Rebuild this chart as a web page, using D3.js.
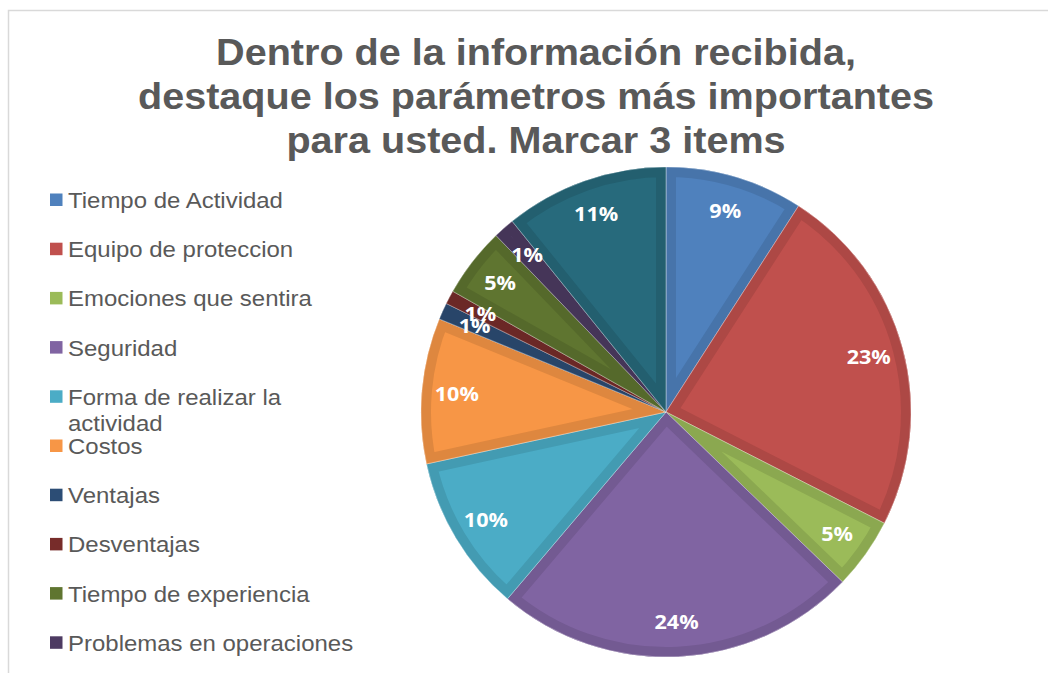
<!DOCTYPE html>
<html>
<head>
<meta charset="utf-8">
<script src="https://cdn.jsdelivr.net/npm/d3@7"></script>
<style>
  body { margin: 0; background: #fff; }
  svg { display: block; }
</style>
</head>
<body>
<svg id="grafico"></svg>
<script>
// datos (porcentaje de menciones)
const categorias = [
  "Tiempo de Actividad", "Equipo de proteccion", "Emociones que sentira",
  "Seguridad", "Forma de realizar la actividad", "Costos", "Ventajas",
  "Desventajas", "Tiempo de experiencia", "Problemas en operaciones", "Otros"
];
const valores = [9.1, 23.4, 4.7, 24.0, 10.4, 9.6, 1.1, 0.9, 4.6, 1.4, 10.8];
const colores = [
  "#4F81BD", "#C0504D", "#9BBB59", "#8064A2", "#4BACC6", "#F79646",
  "#2C4D75", "#772C2A", "#5F7530", "#4D3B62", "#276A7C"
];
const tituloLineas = [
  "Dentro de la información recibida,",
  "destaque los parámetros más importantes",
  "para usted. Marcar 3 items"
];

const width = 1048, height = 673;
const svg = d3.select("#grafico")
  .attr("width", width)
  .attr("height", height);

// marco gris del área del gráfico
svg.append("path")
  .attr("d", "M8.5," + height + " V10.5 H" + width)
  .attr("fill", "none")
  .attr("stroke", "#D9D9D9")
  .attr("stroke-width", 1.5);

// título (el original está un poco estirado a lo ancho)
svg.append("g").selectAll("text")
  .data(tituloLineas)
  .enter().append("text")
  .attr("transform", (d, i) => "translate(536," + (65 + i * 44) + ") scale(1.07,1)")
  .attr("text-anchor", "middle")
  .attr("font-family", "Liberation Sans, Arial, sans-serif")
  .attr("font-weight", "bold")
  .attr("font-size", 37)
  .attr("fill", "#595959")
  .text(d => d);

// pastel
const cx = 666, cy = 412, radio = 245;
const datos = categorias.map((c, i) => ({ nombre: c, valor: valores[i], color: colores[i] }));

const pie = d3.pie().sort(null).value(d => d.valor);
const arco = d3.arc().innerRadius(0).outerRadius(radio);
const arcoEtiqueta = d3.arc().innerRadius(210).outerRadius(210);

const grupo = svg.append("g").attr("transform", "translate(" + cx + "," + cy + ")");
const defs = svg.append("defs");
const porciones = pie(datos);

porciones.forEach((d, i) => {
  defs.append("clipPath").attr("id", "corte" + i)
    .append("path").attr("d", arco(d));
});

const rebanadas = grupo.selectAll("g.rebanada")
  .data(porciones)
  .enter().append("g")
  .attr("class", "rebanada");

rebanadas.append("path")
  .attr("d", arco)
  .attr("fill", d => d.data.color);

// borde interior más oscuro
rebanadas.append("path")
  .attr("d", arco)
  .attr("fill", "none")
  .attr("clip-path", (d, i) => "url(#corte" + i + ")")
  .attr("stroke", d => d3.color(d.data.color).darker(0.3))
  .attr("stroke-width", 20)
  .attr("stroke-linejoin", "miter");

// línea fina clara entre porciones
rebanadas.append("path")
  .attr("d", arco)
  .attr("fill", "none")
  .attr("stroke", "#fff")
  .attr("stroke-opacity", 0.45)
  .attr("stroke-width", 0.8);

grupo.selectAll("text.pct")
  .data(porciones)
  .enter().append("text")
  .attr("class", "pct")
  .attr("transform", d => "translate(" + arcoEtiqueta.centroid(d) + ") scale(1.08,1)")
  .attr("text-anchor", "middle")
  .attr("dy", "0.36em")
  .attr("font-family", "Open Sans, Noto Sans, sans-serif")
  .attr("font-weight", "bold")
  .attr("font-size", 20)
  .attr("fill", "#fff")
  .text(d => Math.round(d.data.valor) + "%");

// leyenda (sólo las entradas que caben)
const leyenda = svg.append("g");
let y = 200;
datos.forEach(d => {
  const palabras = d.nombre.split(" ");
  // partir etiquetas largas en dos líneas
  let lineas = [d.nombre];
  if (d.nombre.length > 26) {
    lineas = [palabras.slice(0, 4).join(" "), palabras.slice(4).join(" ")];
  }
  if (y > 660) return;
  const item = leyenda.append("g").attr("transform", "translate(0," + y + ")");
  item.append("rect")
    .attr("x", 50).attr("y", -6.5)
    .attr("width", 12.5).attr("height", 12.5)
    .attr("fill", d.color);
  item.selectAll("text")
    .data(lineas)
    .enter().append("text")
    .attr("transform", (t, i) => "translate(68," + (i * 26) + ") scale(1.09,1)")
    .attr("dy", "0.36em")
    .attr("font-family", "Liberation Sans, Arial, sans-serif")
    .attr("font-size", 22)
    .attr("fill", "#595959")
    .text(t => t);
  y += 49.2;
});
</script>
</body>
</html>
